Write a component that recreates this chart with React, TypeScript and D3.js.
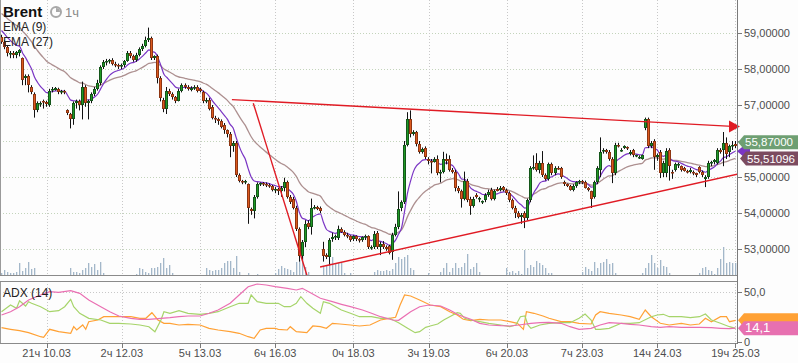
import React, { useEffect } from 'react';
import * as d3 from 'd3';

// Brent, 1h candles: [open, high, low, close]
const CANDLES: [number, number, number, number][] = [
  [58.9, 58.95, 58.7, 58.75], [58.75, 58.8, 58.55, 58.6], [58.6, 58.65, 58.35, 58.45], [58.45, 58.5, 58.3, 58.45], [58.45, 58.5, 58.3, 58.4],
  [58.38, 58.5, 58.3, 58.46], [58.45, 58.55, 58.35, 58.52], [58.3, 58.32, 57.55, 57.7], [57.75, 57.85, 57.55, 57.8], [57.8, 57.85, 57.35, 57.55],
  [57.5, 57.55, 57.3, 57.35], [57.3, 57.35, 56.65, 56.85], [56.85, 57.1, 56.8, 57.05], [57.05, 57.1, 56.95, 57.05], [57.1, 57.15, 56.9, 57.08],
  [57.08, 57.12, 56.95, 57.02], [57.0, 57.45, 56.95, 57.4], [57.42, 57.5, 57.35, 57.45], [57.43, 57.5, 57.4, 57.47], [57.45, 57.48, 57.3, 57.35],
  [57.35, 57.42, 57.3, 57.4], [57.4, 57.42, 57.3, 57.38], [56.85, 56.88, 56.72, 56.78], [56.75, 56.78, 56.35, 56.62], [56.6, 57.1, 56.45, 57.05],
  [57.05, 57.15, 56.9, 57.1], [57.1, 57.15, 56.85, 57.0], [57.0, 57.65, 56.6, 57.5], [57.5, 57.55, 56.95, 57.05], [57.05, 57.15, 56.6, 57.1],
  [57.1, 57.35, 57.05, 57.3], [57.3, 57.5, 57.25, 57.45], [57.45, 57.7, 57.4, 57.62], [57.6, 58.1, 57.55, 58.05], [58.05, 58.25, 58.0, 58.2],
  [58.2, 58.28, 58.1, 58.22], [58.22, 58.28, 58.15, 58.25], [58.25, 58.3, 58.1, 58.15], [58.15, 58.2, 58.05, 58.1], [58.1, 58.15, 58.0, 58.08],
  [58.08, 58.15, 58.0, 58.1], [58.1, 58.25, 58.05, 58.22], [58.22, 58.5, 58.2, 58.45], [58.45, 58.5, 58.3, 58.35], [58.35, 58.4, 58.2, 58.25],
  [58.25, 58.45, 58.2, 58.4], [58.4, 58.6, 58.35, 58.55], [58.55, 58.7, 58.5, 58.65], [58.65, 58.9, 58.6, 58.8], [58.8, 59.15, 58.75, 58.85],
  [58.85, 58.9, 58.25, 58.3], [58.3, 58.38, 58.25, 58.35], [58.35, 58.4, 57.6, 57.75], [57.75, 57.8, 57.1, 57.2], [57.15, 57.2, 56.8, 56.9],
  [56.9, 57.5, 56.75, 57.4], [57.4, 57.45, 57.25, 57.3], [57.3, 57.35, 57.15, 57.22], [57.22, 57.25, 57.05, 57.12], [57.12, 57.45, 57.1, 57.4],
  [57.4, 57.6, 57.35, 57.55], [57.55, 57.6, 57.45, 57.5], [57.5, 57.55, 57.4, 57.45], [57.43, 57.52, 57.38, 57.48], [57.48, 57.55, 57.42, 57.5],
  [57.5, 57.55, 57.35, 57.4], [57.45, 57.48, 57.35, 57.4], [57.35, 57.4, 57.05, 57.1], [57.1, 57.2, 57.05, 57.15], [57.15, 57.2, 56.85, 56.9],
  [56.95, 57.0, 56.6, 56.65], [56.65, 56.7, 56.5, 56.6], [56.6, 56.65, 56.45, 56.55], [56.55, 56.6, 56.35, 56.4], [56.45, 56.5, 56.2, 56.3],
  [56.3, 56.32, 56.1, 56.2], [56.2, 56.25, 55.55, 55.85], [55.85, 56.0, 55.7, 55.95], [55.95, 56.0, 55.0, 55.05], [55.05, 55.1, 54.85, 54.9],
  [54.88, 54.92, 54.8, 54.85], [54.85, 54.92, 54.8, 54.9], [54.8, 54.82, 53.7, 54.15], [54.12, 54.15, 53.95, 54.05], [54.05, 54.5, 53.85, 54.45],
  [54.45, 54.85, 54.4, 54.8], [54.8, 54.85, 54.75, 54.82], [54.82, 54.86, 54.75, 54.8], [54.8, 54.85, 54.72, 54.78], [54.78, 54.82, 54.7, 54.75],
  [54.75, 54.78, 54.6, 54.65], [54.65, 54.72, 54.55, 54.68], [54.68, 54.7, 54.5, 54.6], [54.6, 54.75, 54.45, 54.7], [54.7, 54.98, 54.6, 54.85],
  [54.85, 54.9, 54.4, 54.45], [54.45, 54.5, 54.25, 54.3], [54.4, 54.45, 54.1, 54.15], [54.15, 54.2, 53.5, 53.55], [53.55, 53.6, 52.65, 52.8],
  [52.8, 53.25, 52.7, 53.2], [53.2, 53.8, 53.05, 53.7], [53.72, 53.8, 53.55, 53.6], [53.6, 54.4, 53.4, 54.15], [54.15, 54.22, 54.1, 54.17],
  [54.17, 54.2, 54.08, 54.12], [54.15, 54.18, 54.0, 54.05], [53.0, 53.2, 52.65, 52.8], [52.82, 52.88, 52.72, 52.78], [52.78, 53.3, 52.55, 53.25],
  [53.28, 53.45, 53.2, 53.33], [53.33, 53.4, 53.25, 53.35], [53.3, 53.65, 53.25, 53.55], [53.55, 53.6, 53.45, 53.48], [53.48, 53.52, 53.35, 53.4],
  [53.4, 53.45, 53.3, 53.35], [53.35, 53.38, 53.2, 53.25], [53.28, 53.38, 53.22, 53.35], [53.35, 53.38, 53.22, 53.28], [53.28, 53.3, 53.18, 53.25],
  [53.25, 53.35, 53.2, 53.32], [53.32, 53.4, 53.25, 53.35], [53.35, 53.38, 53.0, 53.05], [53.05, 53.1, 52.98, 53.05], [53.05, 53.5, 53.0, 53.42],
  [53.45, 53.5, 53.0, 53.05], [53.05, 53.2, 52.83, 53.15], [53.15, 53.22, 53.0, 53.05], [53.05, 53.1, 52.95, 53.0], [53.08, 53.12, 52.85, 52.9],
  [52.92, 53.45, 52.7, 53.4], [53.4, 53.7, 53.35, 53.6], [53.6, 54.6, 53.55, 54.1], [54.15, 54.35, 54.05, 54.3], [54.3, 56.0, 54.25, 55.9],
  [55.9, 56.8, 55.85, 56.6], [56.62, 56.85, 56.1, 56.2], [56.2, 56.3, 56.15, 56.25], [56.25, 56.28, 55.85, 55.92], [55.92, 56.0, 55.65, 55.7],
  [55.7, 55.82, 55.65, 55.78], [55.8, 55.85, 55.5, 55.55], [55.5, 55.55, 55.35, 55.45], [55.45, 55.5, 55.1, 55.43], [55.43, 55.55, 55.4, 55.5],
  [55.5, 55.6, 55.05, 55.1], [55.1, 55.2, 54.85, 55.15], [55.15, 55.7, 55.1, 55.5], [55.5, 55.65, 55.35, 55.45], [55.5, 55.6, 55.15, 55.2],
  [55.2, 55.25, 55.1, 55.15], [55.15, 55.2, 54.6, 54.7], [54.7, 54.75, 54.55, 54.62], [54.62, 54.65, 54.15, 54.4], [54.4, 55.15, 54.35, 54.9],
  [54.9, 54.95, 54.3, 54.35], [54.4, 54.45, 53.95, 54.2], [54.2, 54.45, 54.15, 54.4], [54.5, 54.55, 54.4, 54.45], [54.38, 54.45, 54.3, 54.42],
  [54.3, 54.35, 54.25, 54.32], [54.35, 54.55, 54.3, 54.5], [54.5, 54.65, 54.45, 54.58], [54.65, 54.7, 54.35, 54.4], [54.4, 54.65, 54.35, 54.6],
  [54.68, 54.72, 54.6, 54.62], [54.65, 54.75, 54.6, 54.7], [54.72, 54.75, 54.6, 54.65], [54.65, 54.68, 54.5, 54.55], [54.55, 54.6, 54.3, 54.35],
  [54.35, 54.4, 54.1, 54.15], [54.15, 54.2, 53.86, 54.0], [54.0, 54.05, 53.85, 53.9], [53.9, 54.0, 53.7, 53.95], [54.0, 54.05, 53.58, 53.85],
  [53.85, 54.4, 53.8, 54.35], [54.35, 55.3, 54.3, 55.25], [55.25, 55.6, 55.2, 55.28], [55.4, 55.66, 55.15, 55.2], [55.2, 55.45, 55.1, 55.4],
  [55.4, 55.72, 55.0, 55.05], [55.05, 55.1, 54.9, 54.95], [54.95, 55.4, 54.9, 55.35], [55.35, 55.4, 55.05, 55.1], [55.1, 55.3, 55.05, 55.25],
  [55.25, 55.3, 55.2, 55.22], [55.25, 55.28, 54.95, 55.0], [54.85, 54.9, 54.75, 54.8], [54.8, 54.82, 54.72, 54.75], [54.75, 54.78, 54.62, 54.65],
  [54.65, 54.8, 54.6, 54.75], [54.75, 54.88, 54.7, 54.85], [54.85, 54.92, 54.8, 54.9], [54.88, 54.92, 54.8, 54.85], [54.85, 54.9, 54.68, 54.7],
  [54.7, 54.72, 54.6, 54.65], [54.6, 54.62, 54.14, 54.4], [54.45, 54.9, 54.4, 54.85], [54.85, 55.3, 54.8, 55.25], [55.2, 56.1, 55.0, 55.7],
  [55.72, 55.8, 55.65, 55.75], [55.75, 55.78, 55.65, 55.7], [55.7, 55.75, 55.45, 55.5], [55.5, 55.55, 54.83, 55.1], [55.1, 55.95, 55.05, 55.9],
  [55.9, 55.95, 55.82, 55.85], [55.75, 55.8, 55.7, 55.76], [55.8, 55.88, 55.78, 55.85], [55.82, 55.85, 55.75, 55.8], [55.65, 55.75, 55.6, 55.7],
  [55.75, 55.78, 55.55, 55.6], [55.58, 55.62, 55.55, 55.6], [55.55, 55.6, 55.5, 55.55], [55.5, 55.62, 55.48, 55.6], [56.35, 56.65, 56.3, 56.6],
  [56.6, 56.65, 55.8, 55.85], [55.85, 56.0, 55.8, 55.95], [56.0, 56.05, 55.2, 55.55], [55.55, 55.65, 55.45, 55.6], [55.7, 55.75, 54.97, 55.1],
  [55.1, 55.45, 55.0, 55.4], [55.1, 55.8, 55.0, 55.72], [55.75, 55.8, 54.9, 55.3], [55.15, 55.2, 54.95, 55.12], [55.2, 55.4, 55.15, 55.35],
  [55.35, 55.4, 55.25, 55.37], [55.3, 55.32, 55.15, 55.2], [55.25, 55.28, 55.15, 55.18], [55.18, 55.2, 55.1, 55.15], [55.15, 55.25, 55.1, 55.2],
  [55.15, 55.18, 55.05, 55.1], [55.1, 55.12, 55.0, 55.05], [55.28, 55.3, 55.1, 55.15], [55.15, 55.18, 55.0, 55.05], [54.95, 55.05, 54.72, 55.0],
  [55.0, 55.45, 54.95, 55.4], [55.4, 55.45, 55.3, 55.42], [55.42, 55.5, 55.35, 55.47], [55.4, 55.8, 55.35, 55.75], [55.75, 55.8, 55.65, 55.7],
  [55.75, 56.25, 55.3, 55.95], [55.95, 56.1, 55.5, 55.65], [55.7, 55.9, 55.55, 55.85], [55.85, 56.0, 55.75, 55.9], [55.92, 56.0, 55.8, 55.87],
];

const VOLUME: number[] = [
  2, 5, 3, 2, 2, 3, 12, 4, 7, 13, 6, 7,
  0, 0, 0, 0, 0, 0, 0, 0, 0, 0, 0,
  7, 3, 3, 2, 5, 7, 12, 8, 11, 5, 13, 2,
  0, 0, 0, 0, 0, 0, 0, 0, 0, 0,
  1, 7, 6, 3, 2, 7, 7, 8, 12, 17, 7, 10, 2,
  0, 0, 0, 0, 0, 0, 0, 0, 0, 0,
  7, 5, 4, 5, 5, 7, 12, 14, 14, 7, 19, 3,
  0, 0, 2, 0, 0, 1, 0, 0, 0, 0, 0,
  2, 6, 9, 7, 6, 5, 3, 13, 15,
  21, 8, 3, 0, 0, 0, 0,
  8, 10, 12, 18, 11, 12, 12, 2, 0, 2, 0, 0, 0, 0, 0, 0, 0,
  3, 5, 4, 4, 5, 4, 6, 12, 18, 16, 18, 20, 7, 5,
  0, 0, 0, 0, 2, 0, 0, 0, 3, 7, 12,
  3, 7, 12, 7, 8, 12, 21, 6, 8, 12, 3,
  0, 0, 0, 0, 0, 0, 0, 0,
  7, 3, 4, 2, 4, 1, 25, 7, 10, 8, 14, 12, 10, 7, 2, 2,
  0, 0, 0, 0, 0, 0, 0, 0, 0,
  3, 8, 6, 4, 13, 7, 12, 13, 16, 11, 12, 2,
  0, 0, 0, 0, 0, 0, 0, 0,
  2, 7, 12, 20, 12, 7, 15, 9, 8, 2,
  0, 0, 0, 0, 0, 0, 0, 0, 0,
  2, 7, 8, 5, 4, 1, 7, 16, 28, 12, 13, 12, 12,
];

const PRICE_TICKS = [53, 54, 55, 56, 57, 58, 59];
const TIME_TICK_BARS = [15, 40, 66, 91, 117, 142, 168, 193, 218, 244];
const TIME_TICK_LABELS = ['21ч 10.03', '2ч 12.03', '5ч 13.03', '6ч 16.03', '0ч 18.03', '3ч 19.03', '6ч 20.03', '7ч 23.03', '14ч 24.03', '19ч 25.03'];
const ADX_TICKS = [0, 50];

const EMA9_SEED = 59.15;
const EMA27_SEED = 59.6;
const EMA27_LAST = 55.51096;

// [bar, price]
const TREND_TOP: [number, number][] = [[76.6, 57.15], [244.5, 56.4]];
const TREND_STEEP: [number, number][] = [[83.7, 57.05], [101.8, 52.2]];
const TREND_LOW: [number, number][] = [[105.9, 52.5], [244.8, 55.08]];

// ADX(14) panel: [bar, value]
const ADX_LINE: [number, number][] = [
  [0, 27.3], [3, 30.6], [6, 35.6], [9, 42.3], [13, 47.3], [16, 50.6], [19, 50], [23, 51.6], [26, 49], [29, 42.3],
  [33, 35.6], [36, 30.6], [39, 26.3], [43, 24], [46, 23], [49, 23], [53, 24], [56, 24.6], [59, 25.6], [62, 26.3],
  [66, 26.3], [69, 29], [72, 32.3], [76, 39], [79, 47.3], [82, 55.6], [85, 58.3], [88, 57.3], [91, 55.6], [95, 54],
  [98, 52.3], [100, 54], [103, 49], [106, 44], [110, 40.6], [113, 38], [116, 35.6], [120, 32.3], [123, 29], [126, 25.6],
  [130, 22.3], [132, 22], [136, 30.6], [139, 35.6], [142, 37.3], [146, 36.3], [149, 32.3], [152, 27.3], [156, 23], [159, 19],
  [162, 17.3], [166, 16.6], [169, 16.3], [172, 17.3], [176, 19], [179, 19.6], [182, 20], [186, 19], [189, 15.6], [192, 13],
  [196, 14], [199, 17.3], [202, 19.6], [206, 19], [209, 18], [212, 17.3], [216, 15.6], [219, 15], [222, 15.6], [226, 15],
  [229, 15], [232, 15], [236, 14.6], [239, 14], [242, 13.6], [244, 14.1],
];
const PLUS_DI: [number, number][] = [
  [0, 30.6], [3, 37.3], [5, 34], [6, 41.6], [8, 36.3], [9, 40.6], [10, 39], [13, 35.6], [16, 30.6], [19, 31.6],
  [21, 35.6], [23, 43], [24, 35.6], [26, 29], [29, 24], [33, 22.3], [36, 19], [39, 19], [43, 18.3], [46, 17.3],
  [49, 15.6], [51, 10.6], [53, 22.3], [54, 30.6], [56, 29], [59, 31.6], [62, 29], [66, 28], [69, 29], [72, 30.6],
  [76, 35.6], [79, 39], [82, 39], [83, 47.3], [85, 40.6], [88, 39], [92, 39], [94, 35.6], [96, 35.6], [98, 39],
  [99.5, 45.6], [101.5, 39], [103.5, 34], [106, 29], [107, 40.6], [109, 39], [113, 32.3], [116, 29], [119, 25.6], [123, 25.6],
  [126, 24], [129, 24], [132, 19.5], [135, 14], [137.5, 9.6], [139, 10.6], [141, 15], [142.5, 16.3], [145, 18.3], [147, 22.3],
  [149, 25.6], [151.5, 29.6], [152.5, 29], [154, 24], [156, 22.3], [159, 20.6], [162, 19], [166, 17.3], [169, 15.6], [171, 17.3],
  [172.5, 25.6], [174, 26.3], [175, 17.3], [176, 14], [179, 17.3], [182, 19], [186, 19.6], [189, 19.6], [192, 24], [194, 28.3],
  [196, 22.3], [197.5, 13], [199, 13], [202, 14], [206, 19], [209, 19], [212, 19.6], [216, 25.6], [218, 27.3], [220, 28],
  [222, 25.6], [226, 25.6], [229, 24.6], [232, 25.6], [234, 28.3], [236, 22.3], [239, 19], [242, 15.6], [244, 14],
];
const MINUS_DI: [number, number][] = [
  [0, 14.6], [3, 13], [6, 11.6], [9, 9.6], [13, 5.6], [14, 5], [16, 13], [19, 10.6], [23, 9], [24, 15.6],
  [25, 12.3], [27, 17.3], [28, 13], [29, 20.6], [32, 22.3], [34, 25.6], [36, 25.6], [39, 25.6], [43, 25.6], [46, 24],
  [48, 24], [50, 29.6], [52, 22.3], [54, 19], [56, 19], [59, 17.3], [62, 18], [66, 17.3], [69, 14], [72, 12.3],
  [76, 10.6], [79, 9], [82, 5.6], [84, 4], [86, 12.3], [88, 14], [91, 14], [92, 13], [95, 12.3], [96, 15.6],
  [98, 10.6], [101.5, 9.6], [103.5, 16.3], [106, 15.6], [108, 14], [110, 19], [112.5, 18.3], [116, 17.3], [119, 16.3], [122.5, 17.3],
  [126, 22.3], [129, 24], [131, 25], [132.5, 37.3], [134, 47.3], [136, 46.3], [139, 42.3], [142.5, 37.3], [146, 35.6], [149, 30.6],
  [151.5, 27.3], [153.5, 23], [156, 21.6], [159, 23], [162, 22.3], [166, 22.3], [169, 20.6], [171.5, 19], [173.5, 13], [174.5, 30.6],
  [177, 29], [180, 26.3], [182, 24], [186, 20.6], [189, 20.6], [192, 19], [196, 18.3], [197.5, 27.3], [199, 30.6], [202, 29],
  [206, 27.3], [209, 25.6], [212, 23], [214, 32.3], [216, 25.6], [219, 19], [222, 17.3], [226, 19], [229, 17.3], [232, 18.3],
  [234, 24], [236, 20.6], [239, 25.6], [241, 25.6], [242, 20.6], [244, 22],
];

const FONT = '"Liberation Sans", Arial, sans-serif';

function ema(values: number[], period: number, seed: number): number[] {
  const k = 2 / (period + 1);
  let e = seed;
  return values.map((v) => (e = e + k * (v - e)));
}

function Tag({ cy, color, text, x0 = 738, size = 12 }: { cy: number; color: string; text?: string; x0?: number; size?: number }) {
  const h = 7;
  return (
    <g>
      <path d={`M${x0},${cy} L${x0 + 6},${cy - h} L798,${cy - h} L798,${cy + h} L${x0 + 6},${cy + h} Z`} fill={color} />
      {text ? <text x={x0 + 7} y={cy + 4} fill="#fff" fontSize={size} fontFamily={FONT}>{text}</text> : null}
    </g>
  );
}

export default function App() {
  useEffect(() => {
    document.body.style.margin = '0';
  }, []);

  const W = 798, H = 363;
  const R = 737;
  const MAIN_BOT = 275;
  const ADX_TOP = 281, ADX_BOT = 343;
  const N = CANDLES.length;

  const x = d3.scaleLinear().domain([-0.5, N - 0.5]).range([0, R]);
  const y = d3.scaleLinear().domain([53, 59]).range([249, 33]);
  const vy = d3.scaleLinear().domain([0, 30]).range([MAIN_BOT, MAIN_BOT - 30]);
  const ay = d3.scaleLinear().domain([0, 50]).range([342.3, 292.3]);

  const closes = CANDLES.map((c) => c[3]);
  const ema9 = ema(closes, 9, EMA9_SEED);
  const ema27 = ema(closes, 27, EMA27_SEED);

  const emaLine = d3.line<number>().x((_, i) => x(i)).y((v) => y(v)).curve(d3.curveMonotoneX);
  const pairLine = d3.line<[number, number]>().x((d) => x(d[0])).y((d) => y(d[1]));
  const adxLine = d3.line<[number, number]>().x((d) => x(d[0])).y((d) => ay(d[1]));

  const topEnd = TREND_TOP[1];
  const tx = x(topEnd[0]);
  const ty = y(topEnd[1]);

  const lastClose = closes[N - 1];
  const fmt = (v: number, d: number) => v.toFixed(d).replace('.', ',');
  const e9y = y(ema9[N - 1]);
  const closeTagY = y(lastClose) - 3.5;
  const emaTagY = y(EMA27_LAST);
  // axis labels hidden behind the value tags, as in the reference
  const visibleLabel = (p: number) => Math.abs(y(p) - closeTagY) > 12 && Math.abs(y(p) - emaTagY) > 12;

  return (
    <svg width={W} height={H} style={{ position: 'absolute', left: 0, top: 0, background: '#fdfdfd' }} fontFamily={FONT}>
      <defs>
        <clipPath id="mainClip"><rect x={0} y={0} width={R} height={MAIN_BOT} /></clipPath>
        <clipPath id="adxClip"><rect x={0} y={ADX_TOP} width={R} height={ADX_BOT - ADX_TOP} /></clipPath>
      </defs>
      <rect x={0} y={0} width={W} height={H} fill="#fdfdfd" />

      {/* grid main */}
      {PRICE_TICKS.map((p) => (
        <line key={'hg' + p} x1={0} x2={R} y1={Math.round(y(p)) + 0.5} y2={Math.round(y(p)) + 0.5} stroke="#c3d4bb" strokeDasharray="1,2" />
      ))}
      {TIME_TICK_BARS.map((b) => (
        <g key={'vg' + b}>
          <line x1={Math.round(x(b)) + 0.5} x2={Math.round(x(b)) + 0.5} y1={0} y2={MAIN_BOT} stroke="#c8c8c8" strokeDasharray="1,2" />
          <line x1={Math.round(x(b)) + 0.5} x2={Math.round(x(b)) + 0.5} y1={ADX_TOP} y2={ADX_BOT} stroke="#c8c8c8" strokeDasharray="1,2" />
        </g>
      ))}
      <line x1={0} x2={R} y1={Math.round(ay(50)) + 0.5} y2={Math.round(ay(50)) + 0.5} stroke="#c8c8c8" strokeDasharray="1,2" />

      {/* volume */}
      <g clipPath="url(#mainClip)">
        {VOLUME.map((v, i) => v > 0 ? (
          <rect key={'v' + i} x={Math.floor(x(i))} y={vy(v)} width={1.3} height={MAIN_BOT - vy(v)} fill="#a3b7c9" />
        ) : null)}
      </g>

      {/* EMAs */}
      <g clipPath="url(#mainClip)">
        <path d={emaLine(ema27) || ''} fill="none" stroke="#ad9090" strokeWidth={1.3} />
        <path d={emaLine(ema9) || ''} fill="none" stroke="#7a35c4" strokeWidth={1.2} />
      </g>

      {/* candles */}
      <g clipPath="url(#mainClip)">
        {CANDLES.map(([o, h, l, c], i) => {
          const px = Math.floor(x(i));
          const up = c >= o;
          const top = Math.round(y(Math.max(o, c)));
          const bot = Math.round(y(Math.min(o, c)));
          const bh = Math.max(1, bot - top);
          return (
            <g key={'c' + i}>
              <line x1={px + 0.5} x2={px + 0.5} y1={y(h)} y2={y(l)} stroke="#111" strokeWidth={1} />
              <rect x={px - 0.5} y={top + 0.5} width={2} height={Math.max(0.5, bh - 1)} fill={up ? '#1f9a24' : '#dc5a1e'} stroke={up ? '#14561a' : '#8e3512'} strokeWidth={1} />
            </g>
          );
        })}
      </g>

      {/* trend lines */}
      <g clipPath="url(#mainClip)">
        <path d={pairLine(TREND_TOP) || ''} stroke="#e01b24" strokeWidth={1.4} fill="none" />
        <path d={pairLine(TREND_STEEP) || ''} stroke="#e01b24" strokeWidth={1.4} fill="none" />
        <path d={pairLine(TREND_LOW) || ''} stroke="#e01b24" strokeWidth={1.4} fill="none" />
      </g>
      <path d={`M${tx + 3},${ty} L${tx - 8},${ty - 6} L${tx - 8},${ty + 6} Z`} fill="#e01b24" />

      {/* ADX panel lines */}
      <g clipPath="url(#adxClip)">
        <path d={adxLine(MINUS_DI) || ''} fill="none" stroke="#ffa135" strokeWidth={1.2} />
        <path d={adxLine(PLUS_DI) || ''} fill="none" stroke="#a6d46a" strokeWidth={1.2} />
        <path d={adxLine(ADX_LINE) || ''} fill="none" stroke="#ea6fb2" strokeWidth={1.2} />
      </g>

      {/* frames */}
      <line x1={0.5} x2={0.5} y1={0} y2={MAIN_BOT} stroke="#9a9a9a" />
      <line x1={0} x2={R + 1} y1={MAIN_BOT + 0.5} y2={MAIN_BOT + 0.5} stroke="#8a8a8a" />
      <line x1={0.5} x2={0.5} y1={ADX_TOP} y2={ADX_BOT} stroke="#9a9a9a" />
      <line x1={0} x2={R + 1} y1={ADX_TOP + 0.5} y2={ADX_TOP + 0.5} stroke="#8a8a8a" />
      <line x1={0} x2={R + 1} y1={ADX_BOT + 0.5} y2={ADX_BOT + 0.5} stroke="#8a8a8a" />
      <line x1={R + 0.5} x2={R + 0.5} y1={0} y2={ADX_BOT + 1} stroke="#7a7a7a" />

      {/* price axis */}
      {PRICE_TICKS.map((p) => (
        <g key={'pt' + p}>
          <line x1={R} x2={R + 5} y1={Math.round(y(p)) + 0.5} y2={Math.round(y(p)) + 0.5} stroke="#7a7a7a" />
          {visibleLabel(p) ? <text x={744} y={y(p) + 4} fontSize={11} fill="#4d4d4d">{fmt(p, 5)}</text> : null}
        </g>
      ))}
      {/* ADX axis */}
      {ADX_TICKS.map((v) => (
        <g key={'at' + v}>
          <line x1={R} x2={R + 5} y1={Math.round(ay(v)) + 0.5} y2={Math.round(ay(v)) + 0.5} stroke="#7a7a7a" />
          <text x={744} y={ay(v) + 4} fontSize={11} fill="#4d4d4d">{v === 0 ? '0' : fmt(v, 1)}</text>
        </g>
      ))}

      {/* time axis */}
      {TIME_TICK_BARS.map((b, i) => (
        <g key={'tt' + b}>
          <line x1={Math.round(x(b)) + 0.5} x2={Math.round(x(b)) + 0.5} y1={ADX_BOT} y2={ADX_BOT + 5} stroke="#7a7a7a" />
          <text x={x(b)} y={357} fontSize={11} fill="#4d4d4d" textAnchor="middle">{TIME_TICK_LABELS[i]}</text>
        </g>
      ))}

      {/* price tags */}
      <path d={`M737,${e9y} L743,${e9y - 5} L750,${e9y - 5} L750,${e9y + 5} L743,${e9y + 5} Z`} fill="#7a35c4" />
      <Tag cy={emaTagY} color="#7b4b60" text={fmt(EMA27_LAST, 5)} x0={740} size={11.5} />
      <Tag cy={closeTagY} color="#6e9f72" text={fmt(lastClose, 5)} x0={738} size={11.5} />

      <Tag cy={ay(MINUS_DI[MINUS_DI.length - 1][1])} color="#ffa135" x0={738} />
      <Tag cy={ay(ADX_LINE[ADX_LINE.length - 1][1])} color="#e770b0" text={fmt(ADX_LINE[ADX_LINE.length - 1][1], 1)} x0={738} size={13} />

      {/* titles */}
      <text x={3} y={17} fontSize={15} fontWeight="bold" fill="#111">Brent</text>
      <circle cx={56} cy={12} r={5} fill="none" stroke="#a8a8a8" strokeWidth={2} />
      <path d="M56,12 L56,8 A4,4 0 0 1 60,12 Z" fill="#a8a8a8" />
      <text x={65} y={17} fontSize={13} fill="#8a8a8a">1ч</text>
      <text x={3} y={31} fontSize={12} fill="#222">EMA (9)</text>
      <text x={3} y={46} fontSize={12} fill="#222">EMA (27)</text>
      <text x={3} y={297} fontSize={12} fill="#222">ADX (14)</text>
    </svg>
  );
}
